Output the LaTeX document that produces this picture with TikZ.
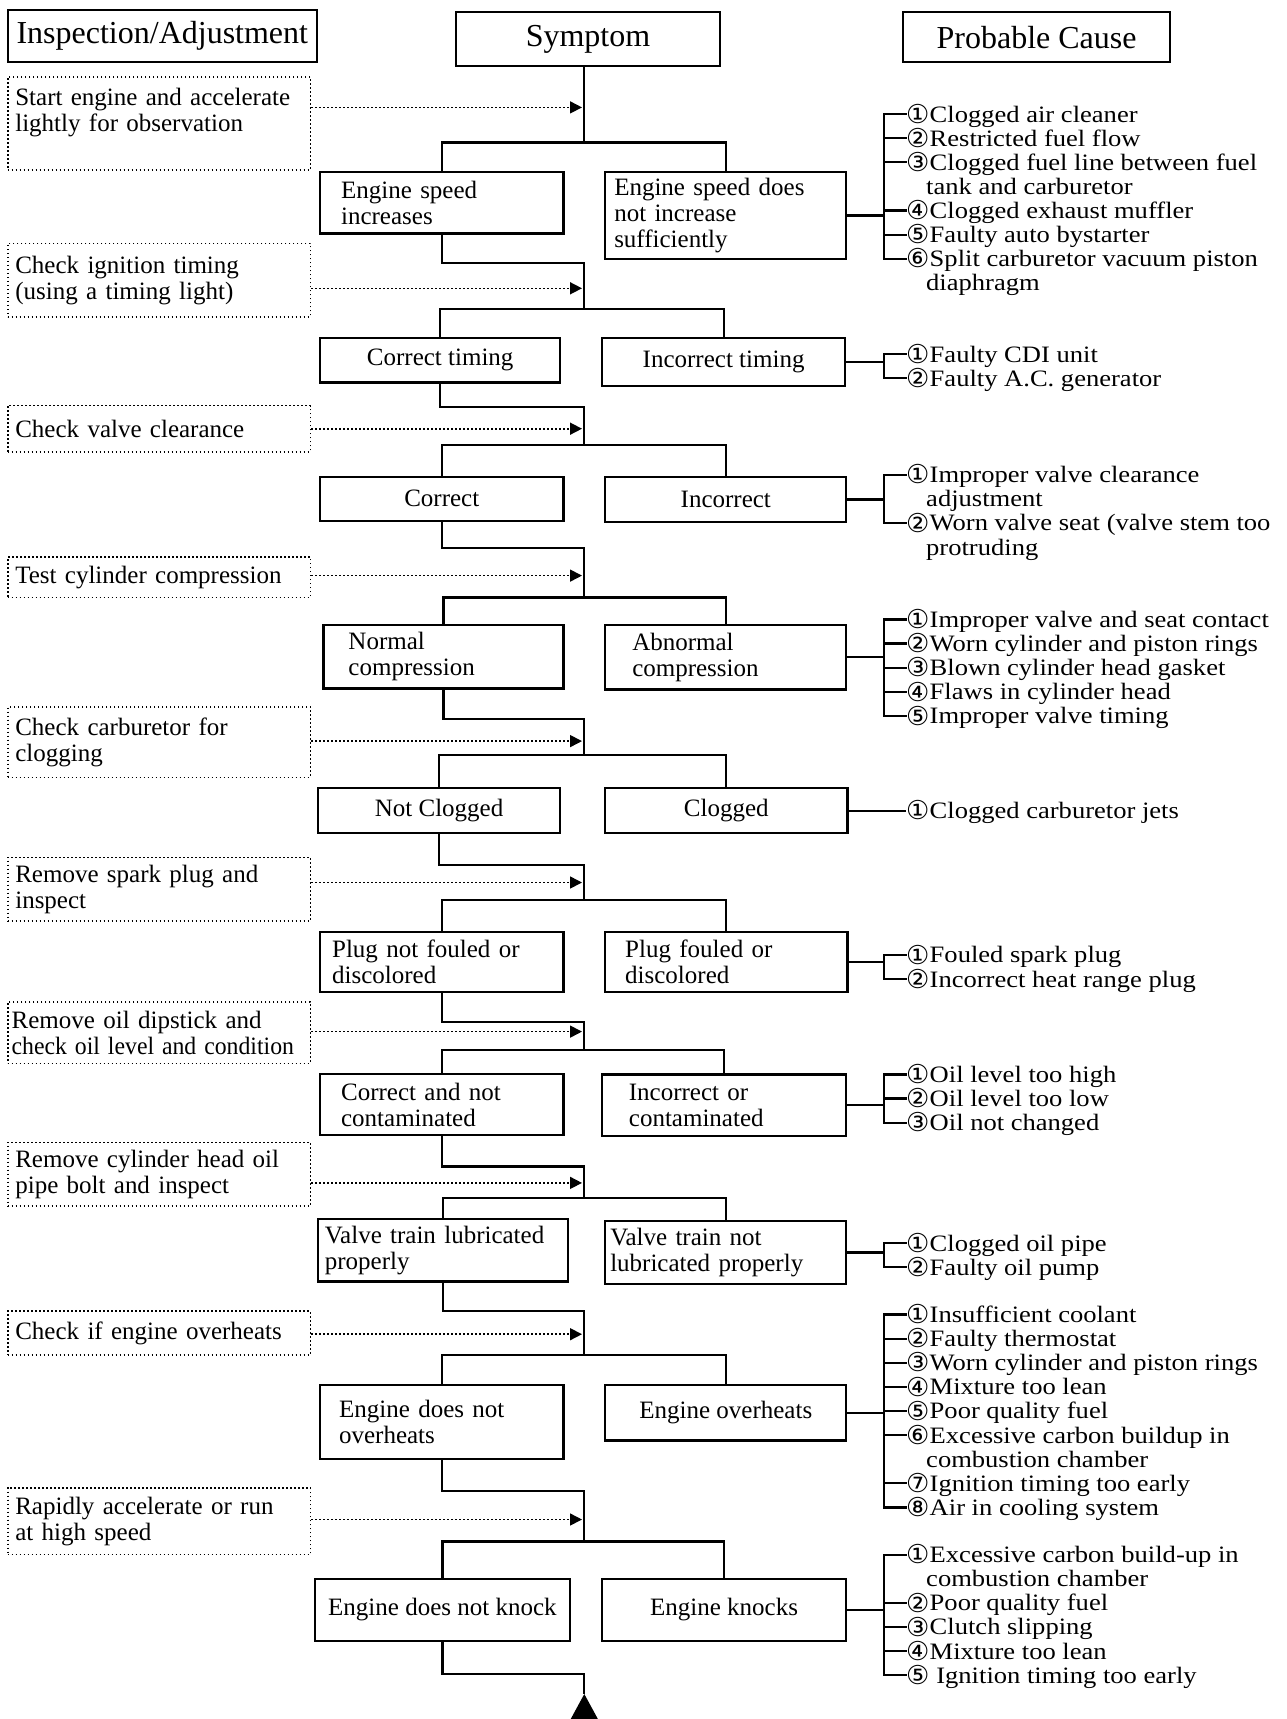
\documentclass[tikz,border=0pt]{standalone}
\usepackage{fontspec}
\usepackage{graphicx}
\setmainfont{Liberation Serif}
\newfontfamily\symfont{DejaVu Sans}
\newfontfamily\causefont[FakeStretch=1.13]{Liberation Serif}
\usetikzlibrary{arrows.meta}
\newcommand\cnum[1]{\makebox[24pt][c]{\raisebox{-1.2pt}{\symfont\fontsize{26}{26}\selectfont #1}}}
\newcommand\ci[4]{\node[cause] (#1) at (905.5,{#2+8}) {\cnum{#3}#4};
  \draw[tick] (#1.base west) ++(0,-8) -- ++(-21.9,0);}
\newcommand\cc[3]{\node[cause] (#1) at (926,{#2+8}) {#3};}
\tikzset{
  conn/.style={line width=2.2pt},
  tick/.style={line width=2.2pt, line cap=rect},
  sbox/.style={draw, line width=2.2pt, inner ysep=0pt, font=\fontsize{25}{26}\selectfont},
  lbox/.style={sbox, align=left},
  cbox/.style={sbox, align=center},
  hbox/.style={draw, line width=2.2pt, inner sep=0pt, font=\fontsize{32}{34}\selectfont},
  ibox/.style={draw, line width=1.6pt, dash pattern=on 1.6pt off 2.4pt, align=left,
    inner xsep=7.6pt, inner ysep=0pt, text width=287.4pt, minimum width=302.6pt,
    font=\fontsize{25}{26}\selectfont},
  darr/.style={line width=1.6pt, dash pattern=on 1.6pt off 2.4pt, -{Triangle[length=12pt,width=12pt]}},
  cause/.style={anchor=base west, inner sep=0pt, font=\causefont\fontsize{23.5}{24}\selectfont},
}
\begin{document}
\begin{tikzpicture}[x=1pt,y=-1pt]
\path[use as bounding box, fill=white] (0,0) rectangle (1286,1719);

% headers
\node[hbox, minimum width=309pt, minimum height=52pt] (insp) at (162.3,36.2) {Inspection/Adjustment};
\node[hbox, minimum width=264pt, minimum height=54pt] (symp) at (588,38.9) {Symptom};
\node[hbox, minimum width=267pt, minimum height=50pt] (pc) at (1036.6,37.2) {Probable Cause};

% inspection boxes
\node[ibox, minimum height=93.2pt] (i1) at (159,123.3) {Start engine and accelerate\\lightly for observation\\\mbox{}};
\node[ibox, minimum height=73.4pt] (i2) at (159,280.1) {Check ignition timing\\(using a timing light)};
\node[ibox, minimum height=46.1pt] (i3) at (159,428.7) {Check valve clearance};
\node[ibox, minimum height=40.6pt] (i4) at (159,577.2) {Test cylinder compression};
\node[ibox, minimum height=70.2pt] (i5) at (159,742.2) {Check carburetor for\\clogging};
\node[ibox, minimum height=63.6pt] (i6) at (159,889.1) {Remove spark plug and\\inspect};
\node[ibox, minimum height=61.4pt, inner xsep=4pt, text width=294.6pt] (i7) at (159,1032.7) {Remove oil dipstick and\\\scalebox{0.95}[1]{check oil level and condition}};
\node[ibox, minimum height=63.6pt] (i8) at (159,1174.1) {Remove cylinder head oil\\pipe bolt and inspect};
\node[ibox, minimum height=43.8pt] (i9) at (159,1333.1) {Check if engine overheats};
\node[ibox, minimum height=66.9pt] (i10) at (159,1521.2) {Rapidly accelerate or run\\at high speed};

% spine coordinates
\coordinate (sp1) at (584.3,142.5);  \coordinate (sp2) at (584.3,309.2);
\coordinate (sp3) at (584.3,445.1);  \coordinate (sp4) at (584.3,597.5);
\coordinate (sp5) at (584.3,755.3);  \coordinate (sp6) at (584.3,900.1);
\coordinate (sp7) at (584.3,1050.3); \coordinate (sp8) at (584.3,1198.3);
\coordinate (sp9) at (584.3,1355);   \coordinate (sp10) at (584.3,1541.4);
\coordinate (e1) at (584.3,263.1);  \coordinate (e2) at (584.3,406.7);
\coordinate (e3) at (584.3,548.2);  \coordinate (e4) at (584.3,719.2);
\coordinate (e5) at (584.3,865);    \coordinate (e6) at (584.3,1021.8);
\coordinate (e7) at (584.3,1166.5); \coordinate (e8) at (584.3,1311.2);
\coordinate (e9) at (584.3,1491);   \coordinate (e10) at (584.3,1674);
\coordinate (a1) at (582,107.4);  \coordinate (a2) at (582,288.3);
\coordinate (a3) at (582,428.7);  \coordinate (a4) at (582,575.6);
\coordinate (a5) at (582,741.1);  \coordinate (a6) at (582,882.5);
\coordinate (a7) at (582,1031.6); \coordinate (a8) at (582,1182.9);
\coordinate (a9) at (582,1334.2); \coordinate (a10) at (582,1519.5);
\coordinate (apex) at (584.3,1694);

% symptom boxes
\node[lbox, minimum width=243.4pt, minimum height=61.4pt, inner xsep=21pt, text width=201.4pt] (l1) at (441.8,202.8) {Engine speed\\increases};
\node[lbox, minimum width=241.1pt, minimum height=86.6pt, inner xsep=9pt, text width=223.1pt] (r1) at (725.8,215.4) {Engine speed does\\not increase\\sufficiently};
\node[cbox, minimum width=240.1pt, minimum height=44.9pt] (l2) at (440.2,360.1) {Correct timing};
\node[cbox, minimum width=243.3pt, minimum height=48.2pt] (r2) at (723.6,361.8) {Incorrect timing};
\node[cbox, minimum width=243.4pt, minimum height=43.8pt] (l3) at (441.8,498.8) {Correct};
\node[cbox, minimum width=241.1pt, minimum height=44.9pt] (r3) at (725.8,499.4) {Incorrect};
\node[lbox, minimum width=240.1pt, minimum height=63.6pt, inner xsep=25pt, text width=190.1pt] (l4) at (443.5,656.7) {Normal\\compression};
\node[lbox, minimum width=241.1pt, minimum height=64.7pt, inner xsep=27pt, text width=187.1pt] (r4) at (725.8,657.2) {Abnormal\\compression};
\node[cbox, minimum width=242.3pt, minimum height=45pt] (l5) at (439.1,810.7) {Not Clogged};
\node[cbox, minimum width=242.2pt, minimum height=45pt] (r5) at (726.3,810.7) {Clogged};
\node[lbox, minimum width=243.4pt, minimum height=60.3pt, inner xsep=12pt, text width=219.4pt] (l6) at (441.8,962) {Plug not fouled or\\discolored};
\node[lbox, minimum width=242.2pt, minimum height=60.3pt, inner xsep=20pt, text width=202.2pt] (r6) at (726.3,962) {Plug fouled or\\discolored};
\node[lbox, minimum width=243.4pt, minimum height=60.3pt, inner xsep=21pt, text width=201.4pt] (l7) at (441.8,1104.5) {Correct and not\\contaminated};
\node[lbox, minimum width=244.4pt, minimum height=61.4pt, inner xsep=27pt, text width=190.4pt] (r7) at (724.1,1105.1) {Incorrect or\\contaminated};
\node[lbox, minimum width=250pt, minimum height=62.5pt, inner xsep=7pt, text width=236pt] (l8) at (442.9,1250.3) {Valve train lubricated\\properly};
\node[lbox, minimum width=241.1pt, minimum height=62.5pt, inner xsep=5pt, text width=231.1pt] (r8) at (725.8,1252.5) {Valve train not\\lubricated properly};
\node[lbox, minimum width=243.4pt, minimum height=74.6pt, inner xsep=19pt, text width=205.4pt] (l9) at (441.8,1421.9) {Engine does not\\overheats};
\node[cbox, minimum width=241.1pt, minimum height=55.9pt] (r9) at (725.8,1412.6) {Engine overheats};
\node[cbox, minimum width=255.5pt, minimum height=62.5pt, inner xsep=0pt] (l10) at (442.4,1610) {Engine does not knock};
\node[cbox, minimum width=244.4pt, minimum height=62.5pt] (r10) at (724.1,1610) {Engine knocks};

% spine
\draw[conn] (sp1 |- symp.south) -- (sp1);
\foreach \n/\m in {1/2,2/3,3/4,4/5,5/6,6/7,7/8,8/9,9/10} {
  \draw[conn] (sp\n) -| (l\n.north);
  \draw[conn] (sp\n) -| (r\n.north);
  \draw[conn] (l\n.south) |- (e\n) -- (sp\m);
}
\draw[conn] (sp10) -| (l10.north);
\draw[conn] (sp10) -| (r10.north);
\draw[conn] (l10.south) |- (e10) -- (apex);
\fill (apex) -- (568,1724) -- (600.6,1724) -- cycle;

% dotted arrows
\foreach \n in {1,...,10} {\draw[darr] (i\n.east |- a\n) -- (a\n);}

% causes
\coordinate (b1t) at (883.6,114);   \coordinate (b1b) at (883.6,258.7);
\draw[tick] (b1t) -- (b1b); \draw[conn] (r1.east) -- (r1.east -| b1t);
\ci{c11}{114}{①}{Clogged air cleaner}
\ci{c12}{138.1}{②}{Restricted fuel flow}
\ci{c13}{162.3}{③}{Clogged fuel line between fuel}
\cc{c13b}{186.4}{tank and carburetor}
\ci{c14}{210.5}{④}{Clogged exhaust muffler}
\ci{c15}{234.6}{⑤}{Faulty auto bystarter}
\ci{c16}{258.7}{⑥}{Split carburetor vacuum piston}
\cc{c16b}{282.8}{diaphragm}

\coordinate (b2t) at (883.6,354.1); \coordinate (b2b) at (883.6,378.2);
\draw[tick] (b2t) -- (b2b); \draw[conn] (r2.east) -- (r2.east -| b2t);
\ci{c21}{354.1}{①}{Faulty CDI unit}
\ci{c22}{378.2}{②}{Faulty A.C. generator}

\coordinate (b3t) at (883.6,474.7); \coordinate (b3b) at (883.6,522.9);
\draw[tick] (b3t) -- (b3b); \draw[conn] (r3.east) -- (r3.east -| b3t);
\ci{c31}{474.7}{①}{Improper valve clearance}
\cc{c31b}{498.8}{adjustment}
\ci{c32}{522.9}{②}{Worn valve seat (valve stem too}
\cc{c32b}{547.1}{protruding}

\coordinate (b4t) at (883.6,619.4); \coordinate (b4b) at (883.6,715.9);
\draw[tick] (b4t) -- (b4b); \draw[conn] (r4.east) -- (r4.east -| b4t);
\ci{c41}{619.4}{①}{Improper valve and seat contact}
\ci{c42}{643.5}{②}{Worn cylinder and piston rings}
\ci{c43}{667.7}{③}{Blown cylinder head gasket}
\ci{c44}{691.8}{④}{Flaws in cylinder head}
\ci{c45}{715.9}{⑤}{Improper valve timing}

\node[cause] (c51) at (905.5,818.7) {\cnum{①}Clogged carburetor jets};
\draw[conn] (r5.east) -- (r5.east -| c51.base west);

\coordinate (b6t) at (883.6,954.9); \coordinate (b6b) at (883.6,979);
\draw[tick] (b6t) -- (b6b); \draw[conn] (r6.east) -- (r6.east -| b6t);
\ci{c61}{954.9}{①}{Fouled spark plug}
\ci{c62}{979}{②}{Incorrect heat range plug}

\coordinate (b7t) at (883.6,1074.4); \coordinate (b7b) at (883.6,1122.6);
\draw[tick] (b7t) -- (b7b); \draw[conn] (r7.east) -- (r7.east -| b7t);
\ci{c71}{1074.4}{①}{Oil level too high}
\ci{c72}{1098.5}{②}{Oil level too low}
\ci{c73}{1122.6}{③}{Oil not changed}

\coordinate (b8t) at (883.6,1243.2); \coordinate (b8b) at (883.6,1267.3);
\draw[tick] (b8t) -- (b8b); \draw[conn] (r8.east) -- (r8.east -| b8t);
\ci{c81}{1243.2}{①}{Clogged oil pipe}
\ci{c82}{1267.3}{②}{Faulty oil pump}

\coordinate (b9t) at (883.6,1314.5); \coordinate (b9b) at (883.6,1507.4);
\draw[tick] (b9t) -- (b9b); \draw[conn] (r9.east) -- (r9.east -| b9t);
\ci{c91}{1314.5}{①}{Insufficient coolant}
\ci{c92}{1338.6}{②}{Faulty thermostat}
\ci{c93}{1362.7}{③}{Worn cylinder and piston rings}
\ci{c94}{1386.8}{④}{Mixture too lean}
\ci{c95}{1410.9}{⑤}{Poor quality fuel}
\ci{c96}{1435.1}{⑥}{Excessive carbon buildup in}
\cc{c96b}{1459.2}{combustion chamber}
\ci{c97}{1483.3}{⑦}{Ignition timing too early}
\ci{c98}{1507.4}{⑧}{Air in cooling system}

\coordinate (b10t) at (883.6,1554.6); \coordinate (b10b) at (883.6,1675.1);
\draw[tick] (b10t) -- (b10b); \draw[conn] (r10.east) -- (r10.east -| b10t);
\ci{c101}{1554.6}{①}{Excessive carbon build-up in}
\cc{c101b}{1578.7}{combustion chamber}
\ci{c102}{1602.8}{②}{Poor quality fuel}
\ci{c103}{1626.9}{③}{Clutch slipping}
\ci{c104}{1651}{④}{Mixture too lean}
\ci{c105}{1675.1}{⑤}{ Ignition timing too early}
\end{tikzpicture}
\end{document}
